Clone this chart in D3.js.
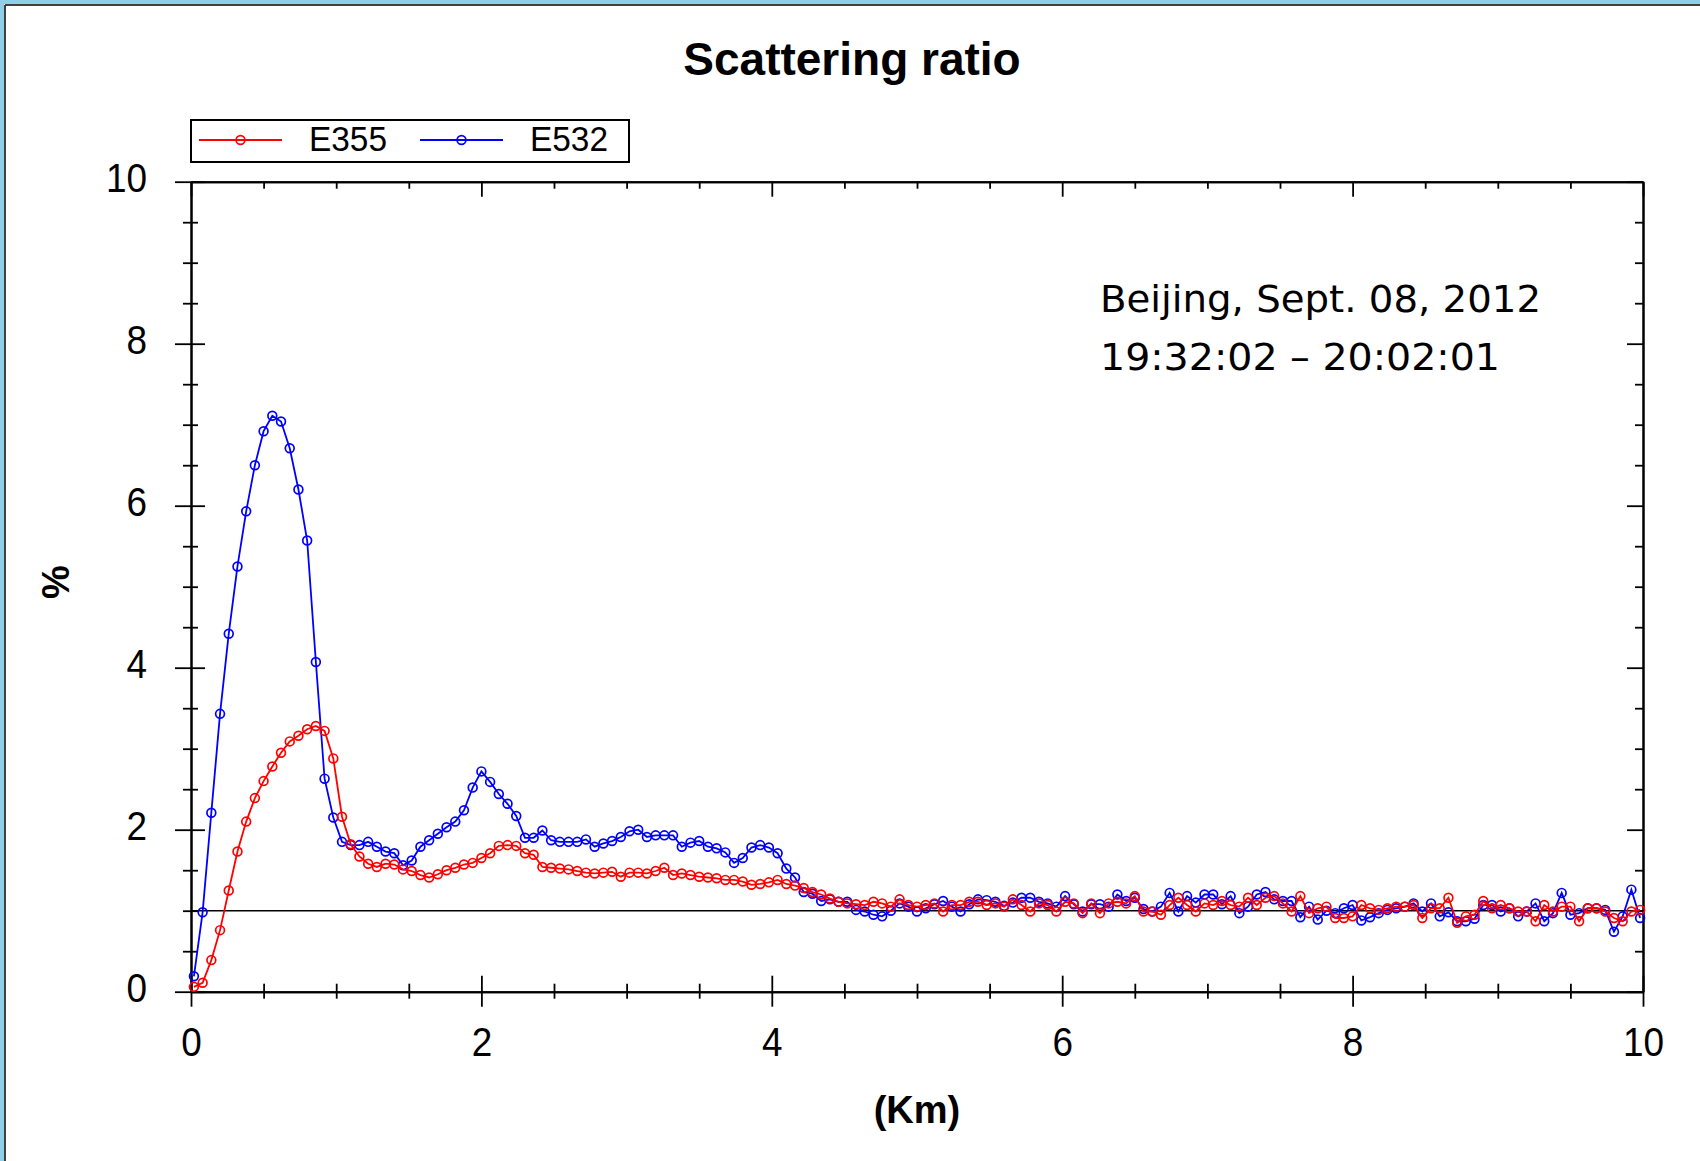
<!DOCTYPE html>
<html>
<head>
<meta charset="utf-8">
<script src="https://cdn.jsdelivr.net/npm/d3@7"></script>
<style>
  html, body { margin: 0; padding: 0; background: #ffffff; }
  svg { display: block; }
</style>
</head>
<body>
<script>
// ---------------- DATA ----------------
const titleText = "Scattering ratio";
const xLabel = "(Km)";
const yLabel = "%";
const annotationLines = ["Beijing, Sept. 08, 2012", "19:32:02 \u2013 20:02:01"];
const seriesNames = ["E355", "E532"];
const seriesColors = ["#ff0000", "#0000ff"];
const xTickLabels = [0, 2, 4, 6, 8, 10];
const yTickLabels = [0, 2, 4, 6, 8, 10];
const xMinorTicks = [0.5, 1, 1.5, 2.5, 3, 3.5, 4.5, 5, 5.5, 6.5, 7, 7.5, 8.5, 9, 9.5];
const yMinorTicks = [0.5, 1, 1.5, 2.5, 3, 3.5, 4.5, 5, 5.5, 6.5, 7, 7.5, 8.5, 9, 9.5];
const referenceLevel = 1;

// range bins (km)
const distance = [
  0.02,0.08,0.14,0.20,0.26,0.32,0.38,0.44,0.50,0.56,
  0.62,0.68,0.74,0.80,0.86,0.92,0.98,1.04,1.10,1.16,
  1.22,1.28,1.34,1.40,1.46,1.52,1.58,1.64,1.70,1.76,
  1.82,1.88,1.94,2.00,2.06,2.12,2.18,2.24,2.30,2.36,
  2.42,2.48,2.54,2.60,2.66,2.72,2.78,2.84,2.90,2.96,
  3.02,3.08,3.14,3.20,3.26,3.32,3.38,3.44,3.50,3.56,
  3.62,3.68,3.74,3.80,3.86,3.92,3.98,4.04,4.10,4.16,
  4.22,4.28,4.34,4.40,4.46,4.52,4.58,4.64,4.70,4.76,
  4.82,4.88,4.94,5.00,5.06,5.12,5.18,5.24,5.30,5.36,
  5.42,5.48,5.54,5.60,5.66,5.72,5.78,5.84,5.90,5.96,
  6.02,6.08,6.14,6.20,6.26,6.32,6.38,6.44,6.50,6.56,
  6.62,6.68,6.74,6.80,6.86,6.92,6.98,7.04,7.10,7.16,
  7.22,7.28,7.34,7.40,7.46,7.52,7.58,7.64,7.70,7.76,
  7.82,7.88,7.94,8.00,8.06,8.12,8.18,8.24,8.30,8.36,
  8.42,8.48,8.54,8.60,8.66,8.72,8.78,8.84,8.90,8.96,
  9.02,9.08,9.14,9.20,9.26,9.32,9.38,9.44,9.50,9.56,
  9.62,9.68,9.74,9.80,9.86,9.92,9.98
];

const e355 = [
  0.06,0.11,0.39,0.76,1.25,1.73,2.10,2.39,2.60,2.78,
  2.95,3.09,3.16,3.24,3.28,3.22,2.88,2.16,1.82,1.67,
  1.58,1.54,1.58,1.57,1.51,1.49,1.44,1.41,1.45,1.50,
  1.53,1.57,1.59,1.65,1.71,1.80,1.81,1.80,1.71,1.69,
  1.54,1.53,1.52,1.51,1.49,1.47,1.46,1.47,1.48,1.42,
  1.47,1.47,1.46,1.49,1.53,1.44,1.46,1.44,1.42,1.41,
  1.40,1.38,1.38,1.36,1.32,1.33,1.35,1.38,1.33,1.31,
  1.28,1.23,1.20,1.15,1.11,1.09,1.08,1.07,1.11,1.09,
  1.05,1.14,1.07,1.05,1.07,1.09,0.99,1.07,1.07,1.11,
  1.11,1.07,1.09,1.05,1.14,1.07,0.99,1.09,1.07,0.99,
  1.11,1.09,0.97,1.09,0.97,1.09,1.11,1.09,1.18,0.99,
  0.99,0.95,1.07,1.16,1.07,0.99,1.09,1.07,1.12,1.07,
  1.05,1.16,1.07,1.16,1.18,1.09,0.99,1.18,0.97,1.03,
  1.05,0.91,0.91,0.93,1.07,1.03,1.01,1.03,1.05,1.05,
  1.07,0.91,1.03,1.03,1.16,0.85,0.93,0.95,1.12,1.03,
  1.07,1.03,0.99,0.99,0.87,1.07,0.99,1.05,1.05,0.87,
  1.03,1.03,0.99,0.91,0.87,0.99,1.01
];

const e532 = [
  0.19,0.98,2.21,3.43,4.42,5.25,5.93,6.50,6.92,7.11,
  7.04,6.71,6.20,5.57,4.07,2.63,2.15,1.85,1.81,1.81,
  1.85,1.79,1.73,1.71,1.56,1.62,1.79,1.87,1.95,2.03,
  2.10,2.24,2.52,2.72,2.59,2.44,2.32,2.17,1.90,1.90,
  1.99,1.87,1.85,1.85,1.85,1.88,1.79,1.83,1.86,1.91,
  1.98,2.00,1.91,1.93,1.93,1.93,1.79,1.84,1.86,1.79,
  1.77,1.72,1.59,1.65,1.78,1.81,1.78,1.71,1.52,1.41,
  1.23,1.21,1.12,1.14,1.11,1.11,1.01,0.99,0.95,0.93,
  1.00,1.09,1.05,0.99,1.03,1.08,1.12,1.05,0.99,1.08,
  1.14,1.13,1.11,1.06,1.10,1.16,1.16,1.11,1.09,1.05,
  1.18,1.08,0.99,1.08,1.08,1.05,1.20,1.12,1.16,1.02,
  0.99,1.05,1.22,0.99,1.18,1.10,1.20,1.20,1.08,1.18,
  0.97,1.05,1.20,1.23,1.14,1.12,1.12,0.92,1.05,0.89,
  1.00,0.97,1.03,1.07,0.88,0.92,0.97,1.01,1.03,1.05,
  1.09,0.99,1.09,0.93,0.98,0.87,0.87,0.90,1.07,1.07,
  0.99,1.03,0.93,0.99,1.09,0.87,0.97,1.22,0.95,0.97,
  1.03,1.03,1.01,0.74,0.93,1.26,0.91
];

// ---------------- DRAW ----------------
const W = 1700, H = 1161;
const svg = d3.select("body").append("svg").attr("width", W).attr("height", H);

// slide frame (light-blue edge + dark rule on top/left)
svg.append("rect").attr("x", 0).attr("y", 0).attr("width", W).attr("height", H).attr("fill", "#ffffff");
svg.append("rect").attr("x", 0).attr("y", 0).attr("width", W).attr("height", 4).attr("fill", "#8ccfe6");
svg.append("rect").attr("x", 0).attr("y", 0).attr("width", 4).attr("height", H).attr("fill", "#8ccfe6");
svg.append("line").attr("x1", 5).attr("x2", W).attr("y1", 5).attr("y2", 5).attr("stroke", "#404040").attr("stroke-width", 2);
svg.append("line").attr("x1", 5).attr("x2", 5).attr("y1", 5).attr("y2", H).attr("stroke", "#404040").attr("stroke-width", 2);

const x = d3.scaleLinear().domain([0, 10]).range([191, 1643]);
const y = d3.scaleLinear().domain([0, 10]).range([991.7, 181.7]);

const axisFont = "Arial, 'Liberation Sans', sans-serif";

function styleAxis(g) {
  g.select(".domain").attr("stroke", "#000").attr("stroke-width", 2);
  g.selectAll(".tick line").attr("stroke", "#000").attr("stroke-width", 1.8);
}
function narrowLabels(g) {
  g.selectAll("text").each(function () {
    const w = this.getComputedTextLength();
    d3.select(this).attr("textLength", w * 0.9).attr("lengthAdjust", "spacingAndGlyphs");
  });
}

// bottom axis: major
const gxMaj = svg.append("g").attr("transform", `translate(0,${y(0)})`)
  .call(d3.axisBottom(x).tickValues(xTickLabels).tickSize(15).tickSizeOuter(0).tickPadding(20).tickFormat(d3.format("d")));
styleAxis(gxMaj);
gxMaj.selectAll(".tick line").attr("y1", -16);
gxMaj.selectAll("text").attr("font-family", axisFont).attr("font-size", 41).attr("fill", "#000");
narrowLabels(gxMaj);
// bottom axis: minor
const gxMin = svg.append("g").attr("transform", `translate(0,${y(0)})`)
  .call(d3.axisBottom(x).tickValues(xMinorTicks).tickSize(7).tickSizeOuter(0).tickFormat(""));
styleAxis(gxMin);
gxMin.selectAll(".tick line").attr("y1", -8);

// top axis (inward ticks)
const gtMaj = svg.append("g").attr("transform", `translate(0,${y(10)})`)
  .call(d3.axisTop(x).tickValues(xTickLabels).tickSize(-15).tickSizeOuter(0).tickFormat(""));
styleAxis(gtMaj);
const gtMin = svg.append("g").attr("transform", `translate(0,${y(10)})`)
  .call(d3.axisTop(x).tickValues(xMinorTicks).tickSize(-7).tickSizeOuter(0).tickFormat(""));
styleAxis(gtMin);

// left axis
const gyMaj = svg.append("g").attr("transform", `translate(${x(0)},0)`)
  .call(d3.axisLeft(y).tickValues(yTickLabels).tickSize(16).tickSizeOuter(0).tickPadding(28).tickFormat(d3.format("d")));
styleAxis(gyMaj);
gyMaj.selectAll(".tick line").attr("x1", 14);
gyMaj.selectAll("text").attr("font-family", axisFont).attr("font-size", 41).attr("fill", "#000").attr("dy", "0.25em");
narrowLabels(gyMaj);
const gyMin = svg.append("g").attr("transform", `translate(${x(0)},0)`)
  .call(d3.axisLeft(y).tickValues(yMinorTicks).tickSize(8).tickSizeOuter(0).tickFormat(""));
styleAxis(gyMin);
gyMin.selectAll(".tick line").attr("x1", 7);

// right axis (inward ticks)
const grMaj = svg.append("g").attr("transform", `translate(${x(10)},0)`)
  .call(d3.axisRight(y).tickValues(yTickLabels).tickSize(-16).tickSizeOuter(0).tickFormat(""));
styleAxis(grMaj);
const grMin = svg.append("g").attr("transform", `translate(${x(10)},0)`)
  .call(d3.axisRight(y).tickValues(yMinorTicks).tickSize(-8).tickSizeOuter(0).tickFormat(""));
styleAxis(grMin);

// reference line at 1
svg.append("line")
  .attr("x1", x(0)).attr("x2", x(10))
  .attr("y1", y(referenceLevel)).attr("y2", y(referenceLevel))
  .attr("stroke", "#000").attr("stroke-width", 1.6);

// series
const seriesData = [e532, e355];
const seriesColorFor = [seriesColors[1], seriesColors[0]];
const line = d3.line().x((d, i) => x(distance[i])).y(d => y(d));

seriesData.forEach((vals, k) => {
  const col = seriesColorFor[k];
  const g = svg.append("g");
  g.append("path").datum(vals).attr("d", line)
    .attr("fill", "none").attr("stroke", col).attr("stroke-width", 1.8);
  g.selectAll("circle").data(vals).join("circle")
    .attr("cx", (d, i) => x(distance[i])).attr("cy", d => y(d))
    .attr("r", 4.4).attr("fill", "none").attr("stroke", col).attr("stroke-width", 1.7);
});

// title
svg.append("text").attr("x", 852).attr("y", 75).attr("text-anchor", "middle")
  .attr("font-family", axisFont).attr("font-weight", "bold").attr("font-size", 46)
  .attr("fill", "#000").text(titleText);

// axis titles
svg.append("text").attr("x", 917).attr("y", 1123).attr("text-anchor", "middle")
  .attr("font-family", axisFont).attr("font-weight", "bold").attr("font-size", 38)
  .attr("fill", "#000").text(xLabel);
svg.append("text").attr("transform", "translate(69,582) rotate(-90)").attr("text-anchor", "middle")
  .attr("font-family", axisFont).attr("font-weight", "bold").attr("font-size", 38)
  .attr("fill", "#000").text(yLabel);

// legend
const lg = svg.append("g");
lg.append("rect").attr("x", 191).attr("y", 120).attr("width", 438).attr("height", 42)
  .attr("fill", "#fff").attr("stroke", "#000").attr("stroke-width", 2);
const legendItems = [
  { name: seriesNames[0], color: seriesColors[0], x0: 199, x1: 282, tx: 309 },
  { name: seriesNames[1], color: seriesColors[1], x0: 420, x1: 503, tx: 530 }
];
legendItems.forEach(it => {
  lg.append("line").attr("x1", it.x0).attr("x2", it.x1).attr("y1", 140).attr("y2", 140)
    .attr("stroke", it.color).attr("stroke-width", 1.8);
  lg.append("circle").attr("cx", (it.x0 + it.x1) / 2).attr("cy", 140).attr("r", 4.4)
    .attr("fill", "none").attr("stroke", it.color).attr("stroke-width", 1.7);
  lg.append("text").attr("x", it.tx).attr("y", 151)
    .attr("font-family", axisFont).attr("font-size", 35).attr("fill", "#000")
    .attr("textLength", 78).attr("lengthAdjust", "spacingAndGlyphs").text(it.name);
});

// annotation
const annW = [441, 400];
annotationLines.forEach((t, i) => {
  svg.append("text").attr("x", 1100).attr("y", 312 + i * 58)
    .attr("font-family", "'DejaVu Sans', sans-serif").attr("font-size", 38).attr("fill", "#000")
    .attr("textLength", annW[i]).attr("lengthAdjust", "spacingAndGlyphs").text(t);
});
</script>
</body>
</html>
